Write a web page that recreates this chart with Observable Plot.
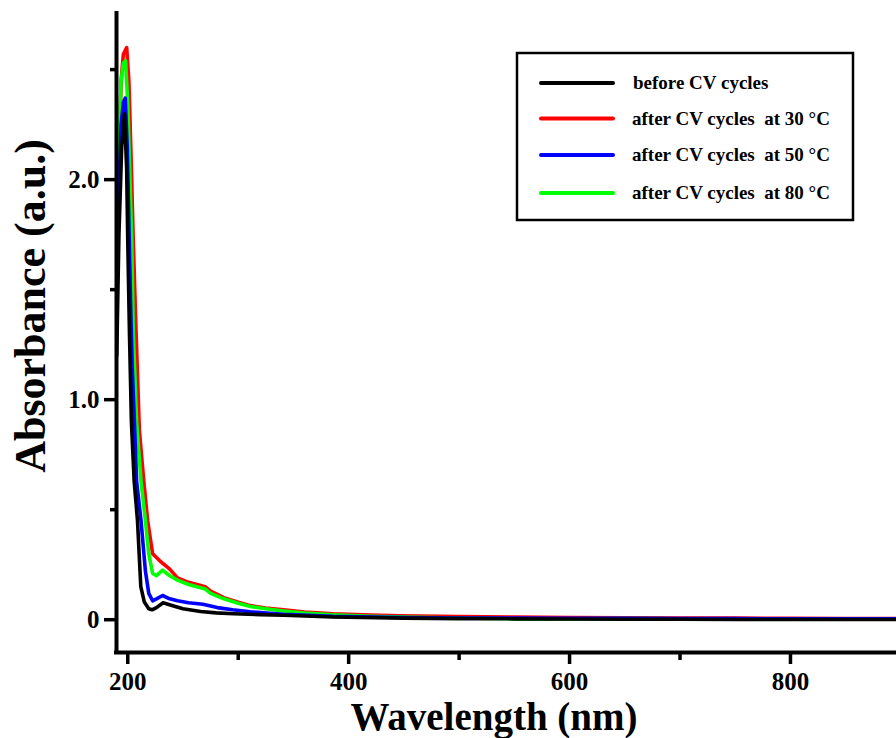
<!DOCTYPE html>
<html>
<head>
<meta charset="utf-8">
<script src="https://cdn.jsdelivr.net/npm/d3@7"></script>
<script src="https://cdn.jsdelivr.net/npm/@observablehq/plot@0.6"></script>
<style>
  html, body { margin: 0; padding: 0; background: #fff; }
  #chart { width: 896px; height: 738px; }
</style>
</head>
<body>
<div id="chart"></div>
<script>
// ---- Data ----
const seriesNames = ["before CV cycles", "after CV cycles  at 30 °C", "after CV cycles  at 50 °C", "after CV cycles  at 80 °C"];
const seriesColors = ["#000000", "#ff0000", "#0000ff", "#00ff00"];

const wlBefore  = [190, 192, 194.5, 197, 199, 200, 201.5, 203.3, 205.8, 208.8, 211.8, 215, 219, 222, 226, 232, 240, 250, 266, 280, 296, 320, 341, 386, 450, 500, 550, 600, 650, 700, 750, 800, 850, 896];
const absBefore = [1.2, 1.75, 2.15, 2.30, 2.05, 1.72, 1.31, 0.9, 0.63, 0.45, 0.15, 0.08, 0.05, 0.045, 0.055, 0.077, 0.065, 0.05, 0.037, 0.031, 0.027, 0.023, 0.02, 0.012, 0.007, 0.005, 0.004, 0.003, 0.002, 0.002, 0.001, 0.001, 0.001, 0.001];

const wl30  = [190, 192, 194, 196, 199, 201, 203, 205, 207.5, 210.5, 214.5, 218, 222.5, 228.5, 232, 238, 245, 255, 266, 270, 275, 287, 300, 311, 325, 341, 360, 386, 420, 446, 500, 550, 600, 650, 700, 750, 800, 850, 896];
const abs30 = [1.5, 2.1, 2.45, 2.57, 2.6, 2.45, 2.1, 1.72, 1.31, 0.86, 0.63, 0.45, 0.30, 0.27, 0.255, 0.23, 0.19, 0.17, 0.155, 0.15, 0.13, 0.10, 0.08, 0.064, 0.053, 0.045, 0.035, 0.027, 0.021, 0.018, 0.014, 0.012, 0.01, 0.009, 0.008, 0.007, 0.006, 0.005, 0.005];

const wl50  = [190, 192, 194, 196, 197.7, 199.5, 201, 202.5, 204, 206, 208, 212, 216, 219, 222.5, 226, 231.5, 238, 245, 255, 268, 275, 281, 295, 311, 341, 386, 450, 500, 550, 600, 650, 700, 750, 800, 850, 896];
const abs50 = [1.4, 1.95, 2.25, 2.35, 2.37, 2.15, 1.8, 1.45, 1.15, 0.9, 0.63, 0.45, 0.22, 0.12, 0.086, 0.095, 0.11, 0.095, 0.086, 0.077, 0.07, 0.062, 0.055, 0.045, 0.036, 0.025, 0.015, 0.01, 0.008, 0.007, 0.006, 0.006, 0.005, 0.005, 0.004, 0.004, 0.004];

const wl80  = [190, 192, 194, 196, 198, 200, 202, 203.6, 205, 208, 212, 216, 219, 222.5, 226, 231.5, 238, 245, 255, 266, 270, 275, 287, 300, 311, 325, 341, 360, 386, 420, 450, 500, 550, 570, 600, 650, 700, 750, 800, 850, 896];
const abs80 = [1.6, 2.15, 2.45, 2.53, 2.54, 2.35, 2.0, 1.72, 1.31, 0.9, 0.63, 0.45, 0.3, 0.21, 0.2, 0.225, 0.2, 0.18, 0.16, 0.145, 0.14, 0.12, 0.095, 0.075, 0.06, 0.05, 0.04, 0.03, 0.022, 0.016, 0.012, 0.008, 0.004, 0.002, 0.004, 0.005, 0.004, 0.004, 0.003, 0.003, 0.003];

const xMajorTicks = [200, 400, 600, 800];
const xMinorTicks = [300, 500, 700];
const yMajorTicks = [0, 1, 2];
const yMinorTicks = [0.5, 1.5, 2.5];
const xTitle = "Wavelength (nm)";
const yTitle = "Absorbance (a.u.)";

// ---- Build table ----
const allWl = [wlBefore, wl30, wl50, wl80];
const allAbs = [absBefore, abs30, abs50, abs80];
const drawOrder = [1, 3, 2, 0]; // red, green, blue, black on top
const rows = [];
for (const s of drawOrder) {
  allWl[s].forEach((w, i) => rows.push({series: seriesNames[s], wl: w, abs: allAbs[s][i]}));
}

const FONT = "'Liberation Serif', 'Times New Roman', Times, serif";
const xDomain = [189.8, 896];
const yDomain = [-0.149, 2.755];

const chart = Plot.plot({
  width: 896,
  height: 738,
  marginLeft: 116,
  marginRight: 0,
  marginTop: 13,
  marginBottom: 86,
  style: {fontFamily: FONT, fontWeight: "bold", background: "#fff", color: "#000", overflow: "visible"},
  x: {domain: xDomain},
  y: {domain: yDomain},
  color: {domain: seriesNames, range: seriesColors},
  marks: [
    Plot.axisX(xMajorTicks, {tickSize: 12, tickPadding: 8, strokeWidth: 3.5, fontSize: 25, fontWeight: "bold", tickFormat: d => String(d), label: null}),
    Plot.axisX(xMinorTicks, {tickSize: 8, strokeWidth: 3.5, tickFormat: () => "", label: null}),
    Plot.axisY(yMajorTicks, {tickSize: 12, tickPadding: 5, strokeWidth: 3.5, fontSize: 25, fontWeight: "bold", tickFormat: d => d === 0 ? "0" : d.toFixed(1), label: null}),
    Plot.axisY(yMinorTicks, {tickSize: 6, strokeWidth: 3.5, tickFormat: () => "", label: null}),
    Plot.line(rows, {x: "wl", y: "abs", z: "series", stroke: "series", strokeWidth: 3.6, strokeLinejoin: "round", strokeLinecap: "round", sort: null, clip: true}),
    Plot.ruleX([xDomain[0]], {strokeWidth: 4, strokeLinecap: "square"}),
    Plot.ruleY([yDomain[0]], {strokeWidth: 4, strokeLinecap: "square"})
  ]
});

const svg = d3.select(chart);

// Axis titles
svg.append("text")
  .attr("x", 494).attr("y", 730)
  .attr("text-anchor", "middle")
  .attr("font-family", FONT).attr("font-weight", "bold").attr("font-size", 39)
  .attr("fill", "#000")
  .text(xTitle);

svg.append("text")
  .attr("transform", "translate(45,306) rotate(-90)")
  .attr("text-anchor", "middle")
  .attr("font-family", FONT).attr("font-weight", "bold").attr("font-size", 44)
  .attr("fill", "#000")
  .text(yTitle);

// Legend
const lg = svg.append("g").attr("text-anchor", "start");
lg.append("rect")
  .attr("x", 517).attr("y", 53).attr("width", 336).attr("height", 167)
  .attr("fill", "#fff").attr("stroke", "#000").attr("stroke-width", 2.5);
const legendRowsY = [83, 118.5, 155, 193];
seriesNames.forEach((name, i) => {
  lg.append("line")
    .attr("x1", 541).attr("x2", 613)
    .attr("y1", legendRowsY[i]).attr("y2", legendRowsY[i])
    .attr("stroke", seriesColors[i]).attr("stroke-width", 4).attr("stroke-linecap", "round");
  lg.append("text")
    .attr("x", i === 0 ? 633 : 632).attr("y", legendRowsY[i] + 6)
    .attr("text-anchor", "start")
    .attr("font-family", FONT).attr("font-weight", "bold").attr("font-size", 19)
    .attr("fill", "#000")
    .style("white-space", "pre")
    .text(name);
});

document.getElementById("chart").appendChild(chart);
</script>
</body>
</html>
